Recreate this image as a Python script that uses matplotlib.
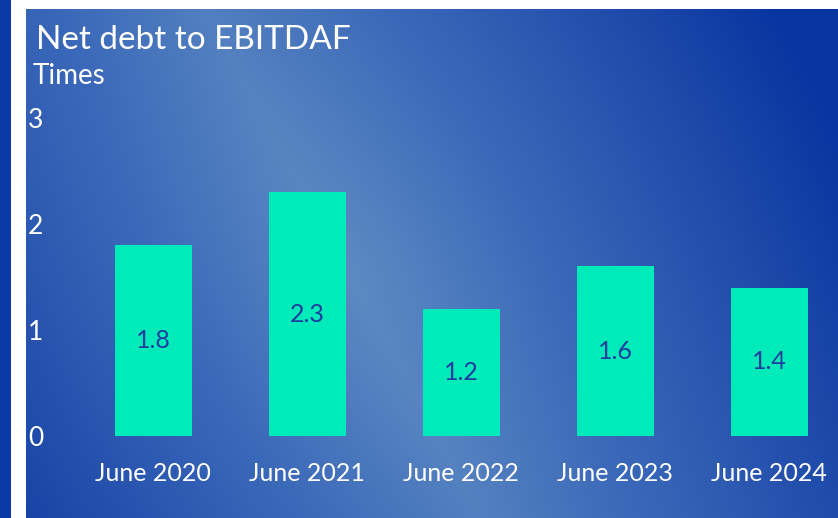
import numpy as np
import matplotlib.pyplot as plt
from matplotlib.colors import LinearSegmentedColormap

categories = ['June 2020', 'June 2021', 'June 2022', 'June 2023', 'June 2024']
values = [1.8, 2.3, 1.2, 1.6, 1.4]
labels = ['1.8', '2.3', '1.2', '1.6', '1.4']
yticks = [0, 1, 2, 3]

W, H = 838, 518
fig = plt.figure(figsize=(W / 100, H / 100), dpi=100)
fig.patch.set_facecolor('white')
plt.rcParams['font.family'] = ['Lato', 'DejaVu Sans']

# left strip
strip = fig.add_axes([0, 0, 11 / W, 1])
strip.set_facecolor('#0b3aa6')
strip.set_xticks([]); strip.set_yticks([])
for s in strip.spines.values():
    s.set_visible(False)

# gradient panel (light diagonal band, dark corners)
px0, py_top = 26, 9
pw, ph = W - px0, H - py_top
bg = fig.add_axes([px0 / W, 0, pw / W, ph / H])
gx, gy = np.meshgrid(np.linspace(0, pw, 400), np.linspace(0, ph, 260))
p0 = np.array([0.22 * pw, 0.0])
p1 = np.array([0.56 * pw, ph])
dv = (p1 - p0) / np.linalg.norm(p1 - p0)
perp = np.abs((gx - p0[0]) * dv[1] - (gy - p0[1]) * dv[0])
rad = np.hypot(gx - 0.42 * pw, gy - 0.5 * ph)
d = np.clip(perp / 620 + rad / 2500, 0, 1)
cmap = LinearSegmentedColormap.from_list('bg', ['#5d8ac2', '#3d6bba', '#2450ad', '#0835a0'])
bg.imshow(d, cmap=cmap, aspect='auto', vmin=0, vmax=1)
bg.set_xticks([]); bg.set_yticks([])
for s in bg.spines.values():
    s.set_visible(False)

# chart axes
left, right = 60, 830
ytop, ybot = 118, 436
ax = fig.add_axes([left / W, (H - ybot) / H, (right - left) / W, (ybot - ytop) / H])
ax.patch.set_alpha(0)
x = np.arange(len(categories))
ax.bar(x, values, width=0.5, color='#00ebb9')
for xi, v, lab in zip(x, values, labels):
    ax.text(xi, v / 2, lab, ha='center', va='center', fontsize=18, color='#1f3c9e')
ax.set_xlim((left - 153) / 154, (right - 153) / 154)
ax.set_ylim(0, 3)
ax.set_yticks(yticks)
ax.set_yticklabels([str(t) for t in yticks], fontsize=19, color='white')
ax.set_xticks(x)
ax.set_xticklabels(categories, fontsize=18, color='white')
ax.tick_params(length=0)
ax.tick_params(axis='y', pad=12)
ax.tick_params(axis='x', pad=19)
for s in ax.spines.values():
    s.set_visible(False)

fig.text(36 / W, 1 - 40 / H, 'Net debt to EBITDAF', fontsize=24, color='white', va='center')
fig.text(33 / W, 1 - 76 / H, 'Times', fontsize=20, color='white', va='center')

fig.savefig('out.png', dpi=100, facecolor='white')
